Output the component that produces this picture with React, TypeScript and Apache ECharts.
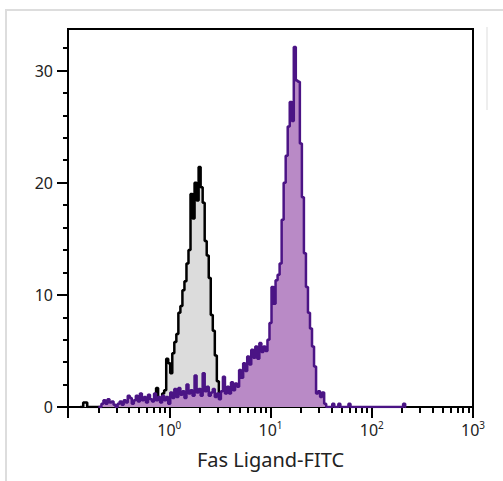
import React, { useEffect, useRef } from "react";
import * as echarts from "echarts";

// Histogram bins on a log10 scale (log10 of Fas Ligand-FITC intensity)
const BIN_WIDTH = 0.02;
const BLACK_START = -0.88; // log10 position of first black bin
const PURPLE_START = -0.7; // log10 position of first purple bin

// Isotype control (black outline, grey fill)
const blackCounts = [
  0, 0, 0.4, 0.4, 0, 0, 0, 0, 0, 0, 0, 0, 0, 0, 0, 0, 0, 0, 0, 0, 0, 0, 0, 0, 0, 0, 0, 0,
  0.4, 0, 0,
  0.3, 0.5, 0.3, 0.6, 0.4, 0.3, 0.8, 1.7, 0.6, 0.5,
  1.2, 1.5, 4.3, 3.9, 3.0, 4.8, 5.8, 6.5, 8.4, 9.0,
  10.4, 11.2, 12.8, 14.0, 19.0, 16.8, 20.0, 18.4, 21.4, 19.6,
  18.2, 14.8, 13.5, 11.5, 8.2, 6.8, 4.6, 2.3, 0.9, 0.3,
  0, 0,
];

// Fas Ligand stained (purple)
const purpleCounts = [
  0, 0, 0.3, 0.6, 0.3, 0.7, 0.4, 0.5, 0.2, 0, 0.3, 0.5,
  0.2, 0.6, 0.4, 1.0, 0.8, 0.3, 0.6, 1.0, 0.5, 1.2,
  0.6, 0.9, 0.4, 1.1, 0.7, 0.5, 1.2, 0.6, 0.9, 0.4,
  1.0, 0.6, 0.9, 0.3, 1.3, 0.8, 1.6, 0.9, 1.7, 1.1,
  1.4, 0.8, 2.0, 1.2, 1.5, 1.0, 2.8, 1.3, 1.6, 1.0,
  3.0, 1.4, 1.8, 1.0, 1.3, 1.6, 0.9, 1.2, 0.7, 1.4,
  2.7, 1.2, 1.8, 1.2, 2.2, 1.5, 2.1, 1.8, 3.3, 2.6,
  3.9, 3.2, 4.5, 3.8, 5.1, 4.4, 5.4, 4.3, 5.7, 4.9,
  5.4, 5.0, 6.0, 7.5, 10.7, 9.2, 11.3, 11.8, 12.8, 16.7,
  20.0, 22.4, 25.0, 27.2, 25.5, 32.1, 29.1, 29.0, 23.5, 18.7,
  13.7, 10.7, 8.4, 7.0, 5.4, 3.6, 1.2, 1.4, 0.9, 1.3,
  0.3, 0, 0, 0, 0.3, 0, 0, 0.3, 0, 0,
  0, 0, 0.3, 0,
  0, 0, 0, 0, 0, 0, 0, 0, 0, 0, 0, 0, 0, 0, 0, 0, 0, 0, 0, 0, 0, 0, 0, 0, 0,
  0.3, 0,
];

const xDecades = [-1, 0, 1, 2, 3];
const xLabelDecades = [0, 1, 2, 3];
const minorMultipliers = [2, 3, 4, 5, 6, 7, 8, 9];
const yMajorTicks = [0, 10, 20, 30];
const yMinorTicks = [2, 4, 6, 8, 12, 14, 16, 18, 22, 24, 26, 28, 32];
const Y_MAX = 33.7;
const X_TITLE = "Fas Ligand-FITC";

const FONT = "Noto Sans";

function toPairs(start: number, counts: number[]) {
  return counts.map((c, k) => [+(start + k * BIN_WIDTH).toFixed(4), c]);
}

export default function App() {
  const ref = useRef<HTMLDivElement>(null);
  useEffect(() => {
    if (!ref.current) return;
    const chart = echarts.init(ref.current, undefined, { renderer: "svg" });
    const xMinor: number[] = [];
    xDecades.slice(0, -1).forEach((d) => {
      minorMultipliers.forEach((m) => xMinor.push(d + Math.log10(m)));
    });
    const option: any = {
      animation: false,
      backgroundColor: "#ffffff",
      grid: {
        left: 68,
        top: 29,
        right: 30,
        bottom: 74,
        show: true,
        borderColor: "#000",
        borderWidth: 2,
        backgroundColor: "transparent",
      },
      xAxis: [
        {
          type: "value",
          min: -1,
          max: 3,
          position: "bottom",
          name: X_TITLE,
          nameLocation: "middle",
          nameGap: 42,
          nameTextStyle: { fontFamily: FONT, fontSize: 20, color: "#222" },
          axisLine: { show: true, onZero: false, lineStyle: { color: "#000", width: 2 } },
          axisTick: { show: true, customValues: xDecades, length: 11, lineStyle: { color: "#000", width: 2 } },
          axisLabel: {
            show: true,
            customValues: xLabelDecades,
            margin: 13,
            formatter: (v: number) => `{b|10}{s|${Math.round(v)}}`,
            rich: {
              b: { fontFamily: FONT, fontSize: 16, color: "#222" },
              s: { fontFamily: FONT, fontSize: 10, color: "#222", padding: [0, 0, 9, 0] },
            },
          },
          splitLine: { show: false },
        },
        {
          type: "value",
          min: -1,
          max: 3,
          position: "bottom",
          offset: 0,
          axisLine: { show: false, onZero: false },
          axisTick: { show: true, customValues: xMinor, length: 6, lineStyle: { color: "#000", width: 2 } },
          axisLabel: { show: false },
          splitLine: { show: false },
        },
      ],
      yAxis: [
        {
          type: "value",
          min: 0,
          max: Y_MAX,
          position: "left",
          axisLine: { show: true, onZero: false, lineStyle: { color: "#000", width: 2 } },
          axisTick: { show: true, customValues: yMajorTicks, length: 11, lineStyle: { color: "#000", width: 2 } },
          axisLabel: {
            show: true,
            customValues: yMajorTicks,
            margin: 15,
            fontFamily: FONT,
            fontSize: 16,
            color: "#222",
          },
          splitLine: { show: false },
        },
        {
          type: "value",
          min: 0,
          max: Y_MAX,
          position: "left",
          offset: 0,
          axisLine: { show: false, onZero: false },
          axisTick: { show: true, customValues: yMinorTicks, length: 5, lineStyle: { color: "#000", width: 2 } },
          axisLabel: { show: false },
          splitLine: { show: false },
        },
      ],
      series: [
        {
          type: "line",
          name: "Isotype",
          step: "middle",
          showSymbol: false,
          xAxisIndex: 0,
          yAxisIndex: 0,
          data: toPairs(BLACK_START, blackCounts),
          lineStyle: { color: "#000000", width: 2.5 },
          areaStyle: { color: "#dcdcdc", opacity: 1 },
          z: 2,
        },
        {
          type: "line",
          name: "Fas Ligand",
          step: "middle",
          showSymbol: false,
          xAxisIndex: 0,
          yAxisIndex: 0,
          data: toPairs(PURPLE_START, purpleCounts),
          lineStyle: { color: "#4b1485", width: 2.5 },
          areaStyle: { color: "#b98ac6", opacity: 1 },
          z: 3,
        },
      ],
      graphic: [
        { type: "line", shape: { x1: 5, y1: 10, x2: 503, y2: 10 }, style: { stroke: "#dddddd", lineWidth: 2 }, silent: true },
        { type: "line", shape: { x1: 6, y1: 10, x2: 6, y2: 481 }, style: { stroke: "#dddddd", lineWidth: 2 }, silent: true },
        { type: "line", shape: { x1: 487, y1: 27, x2: 487, y2: 110 }, style: { stroke: "#eeeeee", lineWidth: 2 }, silent: true },
      ],
    };
    chart.setOption(option);
    return () => chart.dispose();
  }, []);
  return (
    <div
      ref={ref}
      style={{ position: "fixed", left: 0, top: 0, width: 503, height: 481, background: "#fff" }}
    />
  );
}
